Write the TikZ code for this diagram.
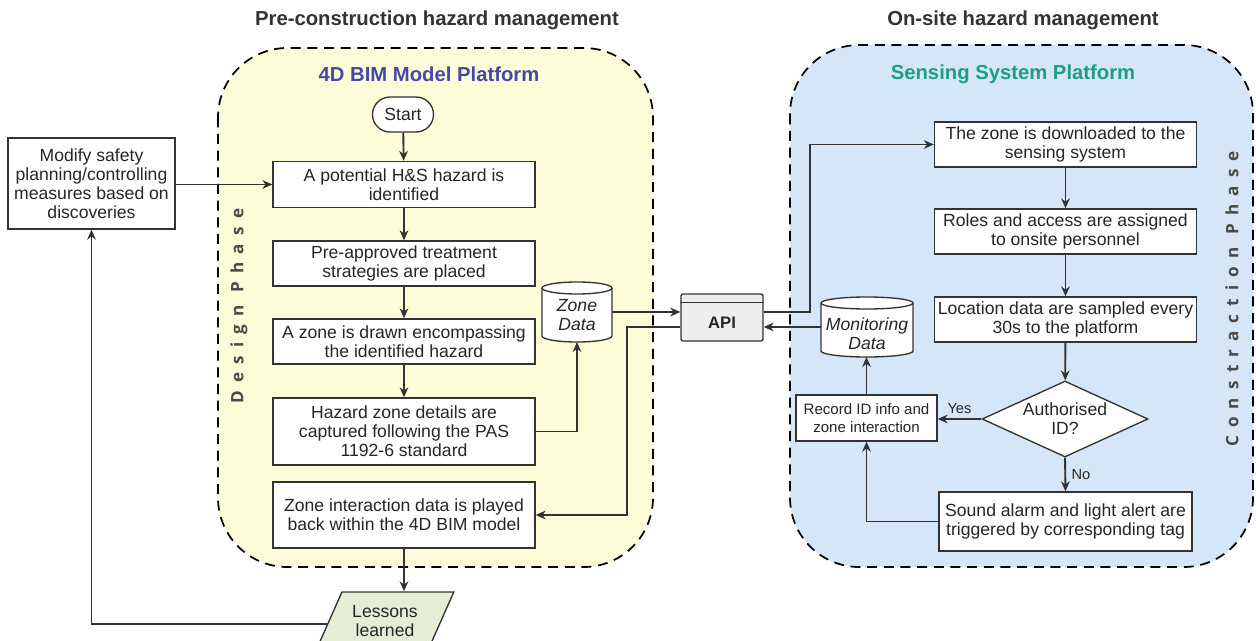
\documentclass[tikz,border=0pt]{standalone}
\usepackage{fontspec}
\setmainfont{Liberation Sans}
\newfontfamily\phasefont[LetterSpace=48]{Open Sans}
\usetikzlibrary{arrows.meta,shapes.geometric,shapes.misc,calc}
\definecolor{yellowfill}{HTML}{FCFCD8}
\definecolor{bluefill}{HTML}{D4E6F8}
\definecolor{linec}{HTML}{333333}
\definecolor{txtc}{HTML}{262626}
\definecolor{bimblue}{HTML}{4747A8}
\definecolor{tealc}{HTML}{1F9E80}
\definecolor{phasegray}{HTML}{4A4A4A}
\definecolor{lessonfill}{HTML}{E3EED5}
\definecolor{apifill}{HTML}{EEEEEE}
\newcommand{\bodyfont}{\fontsize{13.2}{14.3}\selectfont}
\pgfdeclarelayer{bg}
\pgfdeclarelayer{mid}
\pgfsetlayers{bg,mid,main}
\begin{document}
\begin{tikzpicture}[x=0.75pt,y=0.75pt,
  container/.style={draw=black, line width=1.3pt, dash pattern=on 7.5pt off 5pt, rounded corners=52pt},
  title/.style={font=\fontsize{15.2}{17}\selectfont\bfseries, text=linec},
  phase/.style={font=\phasefont\bfseries\fontsize{12.8}{14}\selectfont, text=phasegray},
  box/.style={draw=linec, fill=white, line width=1pt, align=center, inner sep=0pt, font=\bodyfont, text=txtc},
  startst/.style={rounded rectangle, draw=linec, fill=white, line width=1pt, inner sep=0pt, font=\bodyfont, text=txtc},
  dec/.style={diamond, aspect=2.18, draw=linec, fill=white, line width=1pt, inner sep=0pt, align=center, font=\bodyfont, text=txtc},
  cylnode/.style={inner sep=0pt, outer sep=0pt, align=center, font=\bodyfont\itshape, text=txtc},
  cyl/.style={draw=linec, fill=white, line width=1pt},
  apist/.style={draw=linec, fill=apifill, line width=1pt, rounded corners=1.5pt, inner sep=0pt, font=\fontsize{12.5}{14}\selectfont\bfseries, text=txtc},
  lesst/.style={trapezium, trapezium left angle=58, trapezium right angle=122, trapezium stretches=true, draw=linec, fill=lessonfill, line width=1pt, inner sep=0pt, align=center, font=\bodyfont, text=txtc},
  arr/.style={draw=linec, line width=1.4pt, -{Stealth[length=7.5pt,width=6.5pt]}},
  lbl/.style={font=\fontsize{11}{13}\selectfont, text=txtc, inner sep=1pt}
]
\useasboundingbox (0,0) rectangle (1256,-641);
\begin{pgfonlayer}{bg}
\fill[white] (0,0) rectangle (1256,-641);
\draw[container, fill=yellowfill] (218,-48) rectangle (653,-567);
\draw[container, fill=bluefill] (790,-45) rectangle (1253,-567);
\end{pgfonlayer}

% titles
\node[title] (t1) at (437,-20) {Pre-construction hazard management};
\node[title] (t2) at (1023,-20) {On-site hazard management};
\node[title, text=bimblue] (p1) at (429,-74) {4D BIM Model Platform};
\node[title, text=tealc] (p2) at (1013,-74) {Sensing System Platform};
\node[phase, rotate=90] (ph1) at (239,-306) {Design Phase};
\node[phase, rotate=90] (ph2) at (1232,-299) {Constraction Phase};

% left flow
\node[startst, minimum width=45.75pt, minimum height=26.25pt] (start) at (403,-114.5) {Start};
\node[box, minimum width=196.5pt, minimum height=34.5pt] (b1) at (404,-184.5) {A potential H\&S hazard is\\identified};
\node[box, minimum width=196.5pt, minimum height=33.75pt] (b2) at (404,-263.5) {Pre-approved treatment\\strategies are placed};
\node[box, minimum width=196.5pt, minimum height=33.75pt] (b3) at (404,-341.5) {A zone is drawn encompassing\\the identified hazard};
\node[box, minimum width=196.5pt, minimum height=50.25pt] (b4) at (404,-431.5) {Hazard zone details are\\captured following the PAS\\1192-6 standard};
\node[box, minimum width=196.5pt, minimum height=49.5pt] (b5) at (404,-515) {Zone interaction data is played\\back within the 4D BIM model};
\node[box, minimum width=125.25pt, minimum height=68.25pt] (modify) at (91.5,-183.5) {Modify safety\\planning/controlling\\measures based on\\discoveries};
\node[lesst, minimum width=103.5pt, minimum height=43.5pt] (les) at (385,-621) {Lessons\\learned};

% data stores and API
\node[cylnode, minimum width=52.5pt, minimum height=45pt] (zd) at (577,-312) {\raisebox{-4pt}[\height][\depth]{\begin{tabular}{@{}c@{}}Zone\\Data\end{tabular}}};
\node[cylnode, minimum width=69pt, minimum height=45pt] (mon) at (867,-327) {\raisebox{-7pt}[\height][\depth]{\begin{tabular}{@{}c@{}}Monitoring\\Data\end{tabular}}};
\begin{pgfonlayer}{mid}
\foreach \n/\rx in {zd/26.25pt, mon/34.5pt} {
  \filldraw[cyl] ([yshift=-4.5pt]\n.north west) -- ([yshift=4.5pt]\n.south west)
    arc[start angle=180,end angle=360,x radius=\rx,y radius=4.5pt]
    -- ([yshift=-4.5pt]\n.north east)
    arc[start angle=0,end angle=180,x radius=\rx,y radius=4.5pt] -- cycle;
  \draw[cyl, fill=none] ([yshift=-4.5pt]\n.north west) arc[start angle=180,end angle=360,x radius=\rx,y radius=4.5pt];
}
\end{pgfonlayer}
\node[apist, minimum width=61.5pt, minimum height=35.25pt] (api) at (722,-317.5) {\raisebox{-4pt}[\height][\depth]{API}};
\draw[draw=linec, line width=1pt] ([yshift=-6.75pt]api.north west) -- ([yshift=-6.75pt]api.north east);

% right flow
\node[box, minimum width=196.5pt, minimum height=33.75pt] (r1) at (1065.5,-144.5) {The zone is downloaded to the\\sensing system};
\node[box, minimum width=196.5pt, minimum height=33.75pt] (r2) at (1065.5,-231.5) {Roles and access are assigned\\to onsite personnel};
\node[box, minimum width=196.5pt, minimum height=33.75pt] (r3) at (1065.5,-319.5) {Location data are sampled every\\30s to the platform};
\node[dec, minimum width=124.5pt, minimum height=57pt] (dec) at (1065,-419) {Authorised\\ID?};
\node[box, minimum width=105.75pt, minimum height=34.5pt, font=\fontsize{11.3}{13.3}\selectfont] (rec) at (866.5,-418) {Record ID info and\\zone interaction};
\node[box, minimum width=189.75pt, minimum height=44.25pt] (sound) at (1065.5,-521.5) {Sound alarm and light alert are\\triggered by corresponding tag};

% connectors left
\draw[arr] (start) -- (b1);
\draw[arr] (b1) -- (b2);
\draw[arr] (b2) -- (b3);
\draw[arr] (b3) -- (b4);
\draw[arr] (b4.east) -| (zd.south);
\draw[arr] (zd.east) -- (zd.east -| api.west);
\coordinate (k1) at (627,-327);
\draw[arr] (api.west |- k1) -- (k1) |- (b5.east);
\draw[arr] (mon.west) -- (mon.west -| api.east);
\coordinate (k2) at (810,-312);
\draw[arr] (api.east |- k2) -- (k2) |- (r1.west);
\draw[arr] (modify.east |- b1.west) -- (b1.west);
\draw[arr] (b5.south) -- (b5.south |- les.north);
\coordinate (lesl) at ($(les.bottom left corner)!0.448!(les.top left corner)$);
\draw[arr] (lesl) -| (modify.south);

% connectors right
\draw[arr] (r1) -- (r2);
\draw[arr] (r2) -- (r3);
\draw[arr] (r3) -- (dec);
\draw[arr] (dec.west) -- node[above=2pt, lbl] {Yes} (dec.west -| rec.east);
\draw[arr] (dec.south) -- node[right=3pt, lbl] {No} (sound.north);
\draw[arr] (sound.west) -| (rec.south);
\draw[arr] (rec.north) -- (rec.north |- mon.south);
\end{tikzpicture}
\end{document}
